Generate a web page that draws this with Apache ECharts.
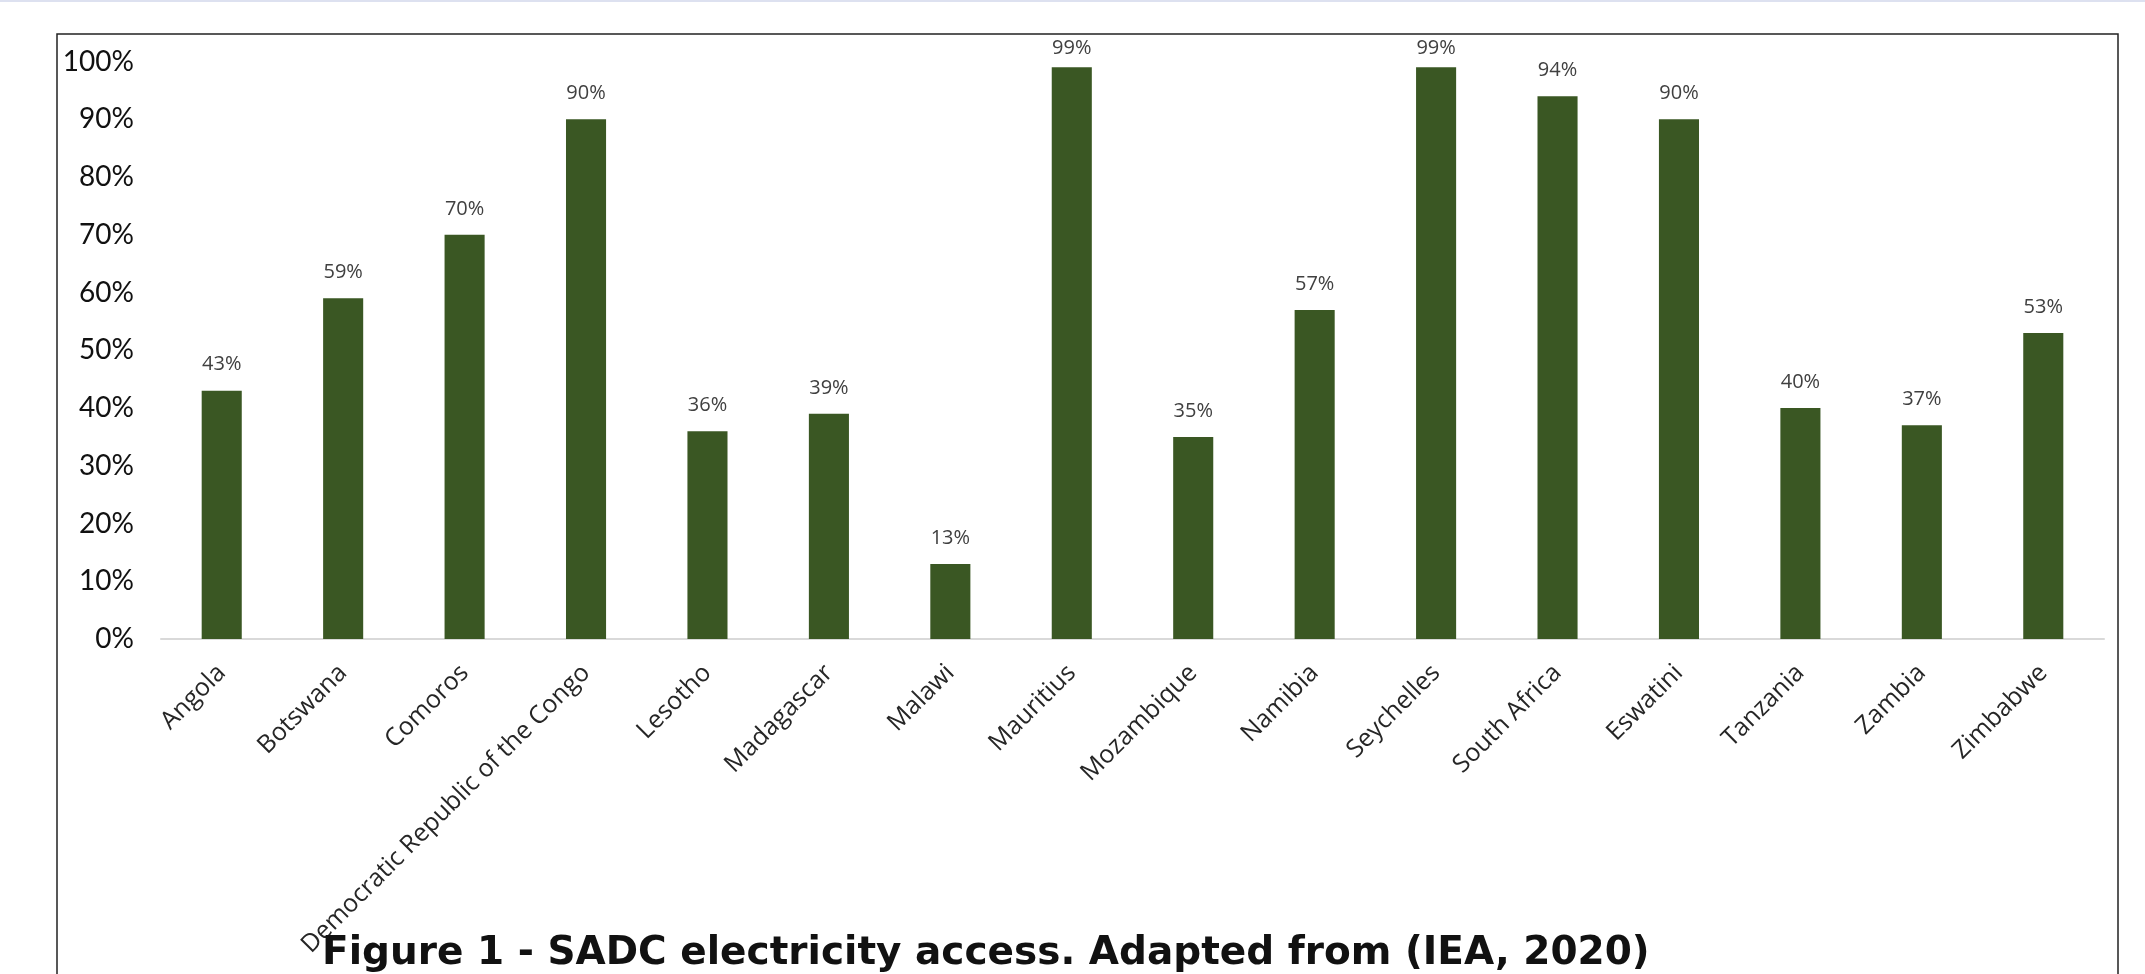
<!DOCTYPE html>
<html>
<head>
<meta charset="utf-8">
<script src="https://cdn.jsdelivr.net/npm/echarts@6/dist/echarts.min.js"></script>
<style>
html,body{margin:0;padding:0;background:#fff;}
#chart{width:2145px;height:974px;}
</style>
</head>
<body>
<div id="chart"></div>
<script>
const categories = ["Angola","Botswana","Comoros","Democratic Republic of the Congo","Lesotho","Madagascar","Malawi","Mauritius","Mozambique","Namibia","Seychelles","South Africa","Eswatini","Tanzania","Zambia","Zimbabwe"];
const access = [43,59,70,90,36,39,13,99,35,57,99,94,90,40,37,53];
const yTicks = {min:0, max:100, interval:10};
const figureTitle = "Figure 1 - SADC electricity access. Adapted from (IEA, 2020)";

const chart = echarts.init(document.getElementById('chart'));
chart.setOption({
  backgroundColor:'#fff',
  animation:false,
  title:{
    text:figureTitle,
    left:317, top:929,
    textStyle:{fontFamily:'DejaVu Sans', fontWeight:'bold', fontSize:39, color:'#111'}
  },
  graphic:[
    {type:'rect', shape:{x:0,y:0,width:2145,height:2}, style:{fill:'#dde1f0'}},
    {type:'rect', shape:{x:57,y:34,width:2061,height:960}, style:{fill:'none', stroke:'#222', lineWidth:1.5}, z:-1}
  ],
  grid:{left:161, right:41, top:61.6, bottom:335, containLabel:false},
  xAxis:{
    type:'category',
    data:categories,
    axisLine:{lineStyle:{color:'#d9d9d9', width:2}},
    axisTick:{show:false},
    axisLabel:{rotate:45, interval:0, fontFamily:'Open Sans', fontSize:25, color:'#262626', margin:30}
  },
  yAxis:{
    type:'value',
    min:yTicks.min, max:yTicks.max, interval:yTicks.interval,
    splitLine:{show:false},
    axisLine:{show:false},
    axisTick:{show:false},
    axisLabel:{formatter:'{value}%', fontFamily:'Lato', fontSize:28, color:'#111', margin:27}
  },
  series:[{
    type:'bar',
    data:access.map(v => v > 97 ? {value:v, label:{distance:9}} : v),
    barCategoryGap:'67%',
    itemStyle:{color:'#3a5723'},
    label:{show:true, position:'top', distance:16, formatter:'{c}%', fontFamily:'Open Sans', fontSize:20, color:'#404040'}
  }]
});
</script>
</body>
</html>
